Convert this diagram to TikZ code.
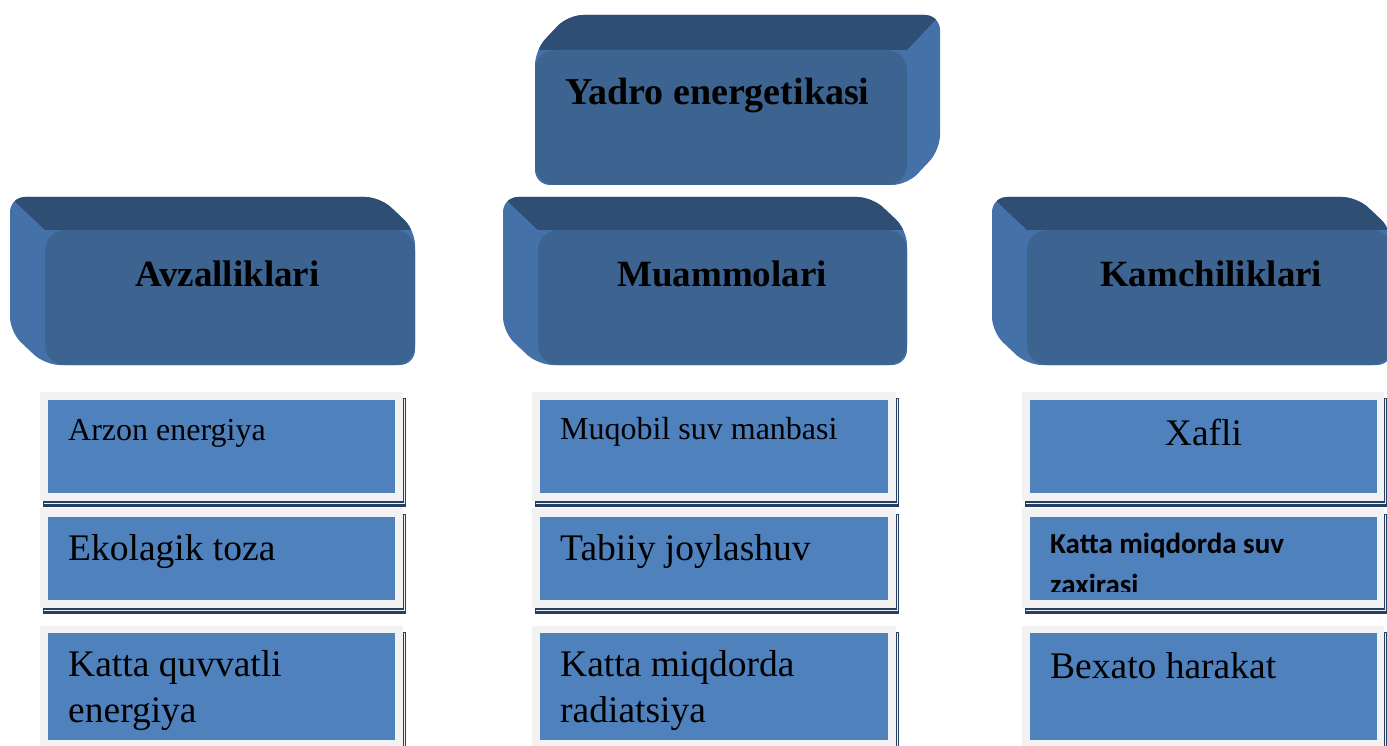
\documentclass[tikz,border=0pt]{standalone}
\usepackage{fontspec}
\setmainfont{Liberation Serif}
\newfontfamily\calib{Carlito}
\definecolor{frontc}{RGB}{61,99,145}
\definecolor{topc}{RGB}{47,78,115}
\definecolor{sidec}{RGB}{68,114,168}
\definecolor{itemblue}{RGB}{79,129,189}
\definecolor{framegrey}{RGB}{242,242,242}
\definecolor{shadowc}{RGB}{36,63,96}
% header box: front rect (#1,#2)-(#3,#4), back face offset to upper-left (-35,-33)
\newcommand\hdrbox[4]{%
  \fill[sidec, rounded corners=15] (#1-35,#2-33) -- (#3-35,#2-33) -- (#3,#2) -- (#3,#4) -- (#1,#4) -- (#1-35,#4-33) -- cycle;
  \begin{scope}
    \clip[rounded corners=15] (#1-35,#2-33) -- (#3-35,#2-33) -- (#3,#2) -- (#3,#4) -- (#1,#4) -- (#1-35,#4-33) -- cycle;
    \fill[topc] (#1,#2) -- (#1-35,#2-33) -- (#3-35,#2-33) -- (#3+5,#2) -- cycle;
  \end{scope}
  \fill[frontc, rounded corners=20] (#1,#2) rectangle (#3,#4);
}
% item: grey frame (#1,#2)-(#3,#4); blue (#5,#6)-(#7,#8)
\newcommand\itembox[8]{%
  \fill[shadowc] (#1+3,#2+6) rectangle (#3+3,#4+6);
  \fill[framegrey] (#1,#2) rectangle (#3,#4);
  \draw[framegrey, line width=0.8] (#1+4,#4+2.6) -- (#3+1.2,#4+2.6) -- (#3+1.2,#2+7);
  \fill[itemblue] (#5,#6) rectangle (#7,#8);
}
\begin{document}
\begin{tikzpicture}[x=1pt,y=-1pt,
  txt/.style={anchor=base west, inner sep=0pt, font=\fontsize{37.5}{46}\selectfont},
  small/.style={anchor=base west, inner sep=0pt, font=\fontsize{32}{38}\selectfont},
  head/.style={anchor=base west, inner sep=0pt, font=\fontsize{37}{44}\selectfont\bfseries},
  sansb/.style={anchor=base west, inner sep=0pt, font=\calib\fontsize{29}{39}\selectfont\bfseries}]
\useasboundingbox (0,0) rectangle (1387,746);
\clip (0,0) rectangle (1387,746);

% top 3D box (back face offset up-right)
\fill[sidec, rounded corners=15] (568,15) -- (940,15) -- (940,150) -- (907,185) -- (535,185) -- (535,50) -- cycle;
\begin{scope}
  \clip[rounded corners=15] (568,15) -- (940,15) -- (940,150) -- (907,185) -- (535,185) -- (535,50) -- cycle;
  \fill[topc] (530,50) -- (568,15) -- (940,15) -- (907,50) -- cycle;
\end{scope}
\fill[frontc, rounded corners=20] (535,50) rectangle (907,185);
\node[head, font=\fontsize{38}{44}\selectfont\bfseries] (top) at (565,105) {Yadro energetikasi};

% header boxes
\hdrbox{45}{230}{415}{365}
\hdrbox{538}{230}{907}{365}
\hdrbox{1027}{230}{1392}{365}
\node[head] (adv) at (135,287) {Avzalliklari};
\node[head] (prob) at (617,287) {Muammolari};
\node[head] (dis) at (1100,287) {Kamchiliklari};

% left column
\itembox{40}{392}{403}{501}{48}{400}{395}{493}
\itembox{40}{508}{403}{608}{48}{517}{395}{600}
\itembox{40}{626}{403}{770}{48}{633}{395}{740}
% middle column
\itembox{532}{392}{896}{501}{540}{400}{888}{493}
\itembox{532}{508}{896}{608}{540}{517}{888}{600}
\itembox{532}{626}{896}{770}{540}{633}{888}{740}
% right column
\itembox{1022}{392}{1384}{501}{1030}{400}{1377}{493}
\itembox{1022}{508}{1384}{608}{1030}{517}{1377}{600}
\itembox{1022}{626}{1384}{770}{1030}{633}{1377}{740}

% left texts
\node[small] (a1) at (68,440) {Arzon energiya};
\node[txt] (a2) at (68,560) {Ekolagik toza};
\node[txt] (a3) at (68,676) {Katta quvvatli};
\node[txt] (a3b) at (68,722) {energiya};
% middle texts
\node[small] (m1) at (560,439) {Muqobil suv manbasi};
\node[txt] (m2) at (560,560) {Tabiiy joylashuv};
\node[txt] (m3) at (560,676) {Katta miqdorda};
\node[txt] (m3b) at (560,722) {radiatsiya};
% right texts
\node[txt, anchor=base] (k1) at (1203.5,445) {Xafli};
\begin{scope}
  \clip (1030,517) rectangle (1377,591);
  \node[sansb] (k2) at (1050,553) {Katta miqdorda suv};
  \node[sansb] (k2b) at (1050,594) {zaxirasi};
\end{scope}
\node[txt] (k3) at (1050,678) {Bexato harakat};
\end{tikzpicture}
\end{document}
